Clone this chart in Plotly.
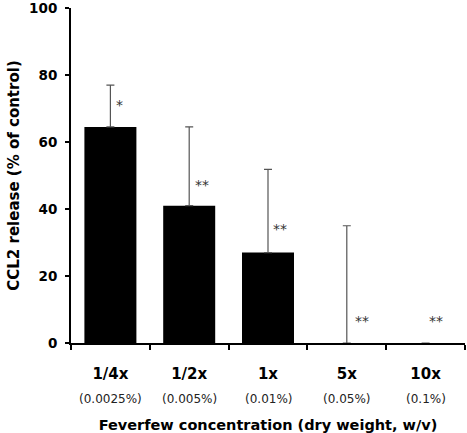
import plotly.graph_objects as go

categories = ["1/4x", "1/2x", "1x", "5x", "10x"]
concentrations = ["(0.0025%)", "(0.005%)", "(0.01%)", "(0.05%)", "(0.1%)"]
values = [64.5, 41.0, 27.0, 0.0, 0.0]
errors_plus = [12.5, 23.5, 24.8, 35.0, None]
stars = ["*", "**", "**", "**", "**"]
star_y = [71.0, 47.3, 34.0, 6.5, 6.5]
star_shift = [9, 13, 12, 15, 10]

fig = go.Figure()
fig.add_trace(go.Bar(
    x=categories, y=values,
    marker=dict(color="black", line=dict(width=0)),
    width=0.66,
    error_y=dict(type="data", symmetric=False, array=errors_plus,
                 arrayminus=[0] * len(values), color="#555555",
                 thickness=1.2, width=4),
    showlegend=False,
))

annotations = []
for c, s, yv, sh in zip(categories, stars, star_y, star_shift):
    annotations.append(dict(x=c, y=yv, xref="x", yref="y", text=s, showarrow=False,
                            xshift=sh, font=dict(family="DejaVu Sans", size=14, color="#333333")))
for c, t in zip(categories, concentrations):
    annotations.append(dict(x=c, y=-0.166, xref="x", yref="paper", text=t, showarrow=False,
                            yanchor="middle", font=dict(family="DejaVu Sans", size=12, color="#222222")))

fig.update_layout(
    width=467, height=433,
    margin=dict(l=71, r=2, t=8, b=90),
    plot_bgcolor="white", paper_bgcolor="white",
    font=dict(family="DejaVu Sans", color="black"),
    annotations=annotations,
    xaxis=dict(
        type="category", tickson="boundaries", ticks="outside", ticklen=5,
        tickwidth=2, tickcolor="black", showline=True, linecolor="black", linewidth=2,
        showgrid=False, tickfont=dict(size=15, family="DejaVu Sans", weight="bold"),
        ticklabelstandoff=16, automargin=False,
        title=dict(text="<b>Feverfew concentration (dry weight, w/v)</b>",
                   font=dict(size=14.5, family="DejaVu Sans"), standoff=40),
    ),
    yaxis=dict(
        range=[0, 100], tickvals=[0, 20, 40, 60, 80, 100], ticks="outside", ticklen=4,
        tickwidth=2, tickcolor="black", showline=True, linecolor="black", linewidth=2,
        showgrid=False, zeroline=False, automargin=False, ticklabeloverflow="allow",
        ticklabelstandoff=5,
        tickfont=dict(size=13.5, family="DejaVu Sans", weight="bold"),
        title=dict(text="<b>CCL2 release (% of control)</b>",
                   font=dict(size=15, family="DejaVu Sans"), standoff=6),
    ),
)

fig.write_html("out.html", config={"displayModeBar": False},
               post_script="document.body.style.margin='0';document.body.style.padding='0';")
